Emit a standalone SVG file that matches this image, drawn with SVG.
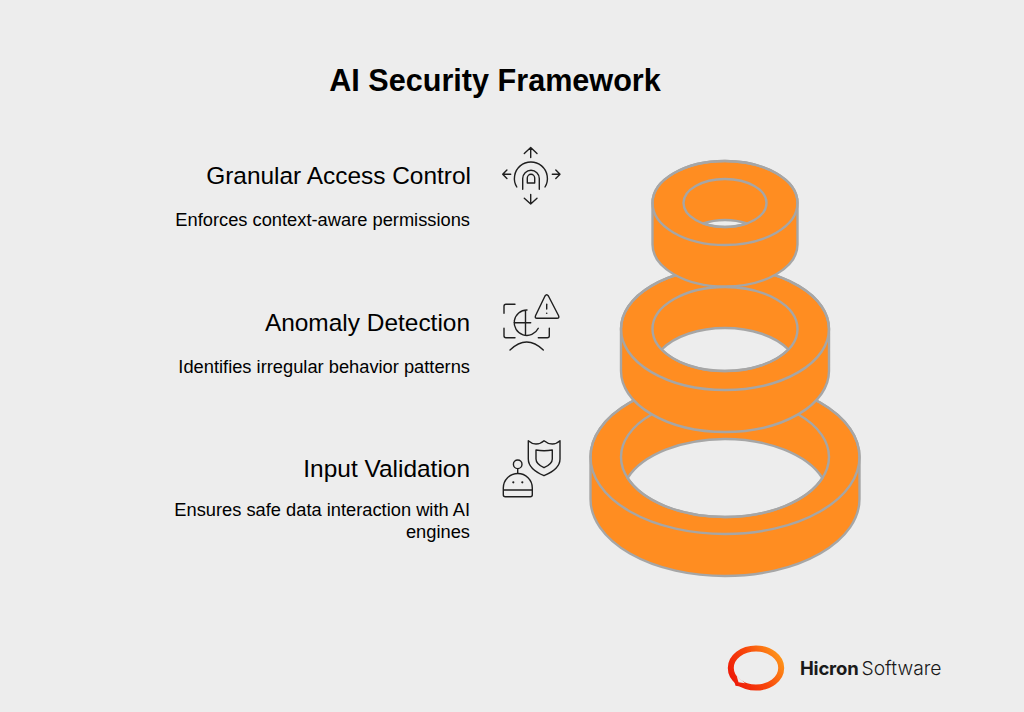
<svg xmlns="http://www.w3.org/2000/svg" width="1024" height="712" viewBox="0 0 1024 712">
<style>
.ttl{font:700 30.6px "Liberation Sans",Arial,sans-serif;fill:#000;text-anchor:middle}
.h{font:400 24.45px "Liberation Sans",Arial,sans-serif;fill:#000;text-anchor:end}
.d{font:400 18.3px "Liberation Sans",Arial,sans-serif;fill:#000;text-anchor:end}
.r{fill:#ff8d21;stroke:#a6a6a6;stroke-width:2.4;fill-rule:evenodd;stroke-linejoin:round}
.l{fill:none;stroke:#a6a6a6;stroke-width:2.4}
.i{fill:none;stroke:#1f1f1f;stroke-width:1.4;stroke-linecap:round;stroke-linejoin:round}
.dot{fill:#1f1f1f}
</style>
<defs>
<linearGradient id="lg" gradientUnits="userSpaceOnUse" x1="782" y1="655" x2="735" y2="685">
<stop offset="0" stop-color="#ff9a1a"/><stop offset="0.5" stop-color="#f8480c"/><stop offset="1" stop-color="#ee1a08"/>
</linearGradient>
</defs>
<rect width="1024" height="712" fill="#ededed"/>
<text class="ttl" x="495" y="91">AI Security Framework</text>

<g id="ring-bottom">
<path class="r" d="M590.5,457A134.5,77 0 0 1 859.5,457V499A134.5,77 0 0 1 590.5,499ZM627.6,478A104,60 0 0 1 822.4,478A104,60 0 0 1 627.6,478Z"/>
<ellipse class="l" cx="725" cy="457" rx="134.5" ry="77"/>
<ellipse class="l" cx="725" cy="457" rx="104" ry="60"/>
</g>
<g id="ring-middle">
<path class="r" d="M621,329A104,61 0 0 1 829,329V371A104,61 0 0 1 621,371ZM661.7,349.5A72.5,42 0 0 1 788.3,349.5A72.5,42 0 0 1 661.7,349.5Z"/>
<ellipse class="l" cx="725" cy="329" rx="104" ry="61"/>
<ellipse class="l" cx="725" cy="329" rx="72.5" ry="42"/>
</g>
<g id="ring-top">
<path class="r" d="M652.5,203A72.5,42 0 0 1 797.5,203V244.5A72.5,42 0 0 1 652.5,244.5ZM703.4,223.5A41.5,24 0 0 1 746.6,223.5A41.5,24 0 0 1 703.4,223.5Z"/>
<ellipse class="l" cx="725" cy="203" rx="72.5" ry="42"/>
<ellipse class="l" cx="725" cy="203" rx="41.5" ry="24"/>
</g>

<g id="node-access">
<text class="h" x="471" y="184">Granular Access Control</text>
<text class="d" x="470" y="225.5">Enforces context-aware permissions</text>
<g id="icon-access" class="i">
<path d="M530.7,147.5V157.5M524.3,153.5L530.7,147.5L537,153.5"/>
<path d="M530.7,204V194.5M524.3,198.3L530.7,204L537,198.3"/>
<path d="M502.7,174.3H510.7M506.9,170L502.7,174.3L506.9,178.5"/>
<path d="M560,174.3H552.3M555.8,170L560,174.3L555.8,178.5"/>
<path d="M516.8,187A16.5,16.5 0 1 1 545,187"/>
<path d="M522.7,189.3V178.5A8.3,8.3 0 0 1 539.3,178.5V189.3"/>
<path d="M527.3,183V178A3.7,3.7 0 0 1 534.7,178V183Z"/>
</g>
</g>
<g id="node-anomaly">
<text class="h" x="470" y="330.5">Anomaly Detection</text>
<text class="d" x="470" y="372.5">Identifies irregular behavior patterns</text>
<g id="icon-anomaly" class="i">
<path d="M504,313.3V306.3Q504,304.3 506,304.3H515M504,328.3V335.7Q504,337.7 506,337.7H515M538.3,337.7H547.3Q549.3,337.7 549.3,335.7V328.3"/>
<path d="M527,310A12.7,12.7 0 1 0 538.3,328.3M525.5,310.2V335M514,322.7H530.7"/>
<path d="M510,350Q526.7,334 543.3,350"/>
<path d="M545,296L535.6,315.5Q534.5,318.3 537,318.3H557Q559.7,318.3 558.5,315.5L548.4,296Q546.7,293.5 545,296Z"/>
<path d="M546.7,304.3V309"/>
<circle class="dot" cx="546.7" cy="313.3" r="0.8" stroke="none"/>
</g>
</g>
<g id="node-input">
<text class="h" x="470" y="477">Input Validation</text>
<text class="d" x="470" y="515.5">Ensures safe data interaction with AI</text>
<text class="d" x="470" y="538">engines</text>
<g id="icon-input" class="i">
<path d="M528.3,440.7Q532,444 536,444Q540.5,444 544,440.7Q548,444 552.3,444Q556.5,444 560,440.7V459Q560,469 544,475.7Q528.3,469 528.3,459Z"/>
<path d="M536,450Q544,451.5 552.3,450V459Q552.3,464 544,467.7Q536,464 536,459Z"/>
<path d="M503.3,490V488A14.5,14.5 0 0 1 532.3,488V494.7Q532.3,496.7 530.3,496.7H505.3Q503.3,496.7 503.3,494.7ZM503.3,490H532.3"/>
<circle cx="517.7" cy="464.3" r="4.3"/>
<path d="M517.7,468.6V473.3"/>
<circle class="dot" cx="513.3" cy="482.3" r="1.1" stroke="none"/>
<circle class="dot" cx="522.3" cy="482.3" r="1.1" stroke="none"/>
</g>
</g>
<g id="logo">
<ellipse cx="756" cy="668" rx="25.2" ry="19.5" fill="none" stroke="url(#lg)" stroke-width="6"/>
<path d="M733,677L735.5,685.8L746,687.5L744,682L738,678Z" fill="url(#lg)"/>
<path d="M736.8,676.5L738.5,682.3L745,683.2L741,679.5Z" fill="#ededed"/>
<text x="800" y="674.5" font-family="Inter,'Liberation Sans',sans-serif" font-size="18.5" font-weight="700" letter-spacing="-0.2" fill="#1a1a1a">Hicron</text>
<text x="861.5" y="674.5" font-family="Inter,'Liberation Sans',sans-serif" font-size="19.3" font-weight="300" fill="#1a1a1a">Software</text>
</g>
</svg>
